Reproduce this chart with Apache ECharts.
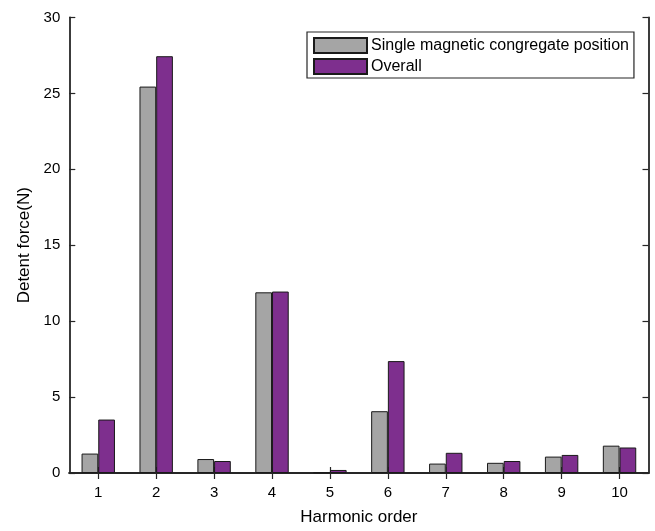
<!DOCTYPE html>
<html>
<head>
<meta charset="utf-8">
<script src="https://cdn.jsdelivr.net/npm/echarts@6/dist/echarts.min.js"></script>
<style>html,body{margin:0;padding:0;background:#fff}#chart{width:655px;height:531px}</style>
</head>
<body>
<div id="chart"></div>
<script>
const categories = ['1','2','3','4','5','6','7','8','9','10'];
const singleValues = [1.28, 25.45, 0.92, 11.9, 0.05, 4.07, 0.62, 0.67, 1.08, 1.8];
const overallValues = [3.52, 27.45, 0.79, 11.95, 0.2, 7.37, 1.33, 0.79, 1.19, 1.68];
const seriesNames = ['Single magnetic congregate position', 'Overall'];
const yTicks = [0, 5, 10, 15, 20, 25, 30];

const FONT = '"Liberation Sans", Arial, Helvetica, sans-serif';
const INK = '#262626';
const chart = echarts.init(document.getElementById('chart'));
const axisLine = {show: true, lineStyle: {color: INK, width: 1.8}};
const tick = {show: true, inside: true, length: 6, lineStyle: {color: INK, width: 1.2}};
chart.setOption({
  animation: false,
  textStyle: {fontFamily: FONT},
  grid: {left: 69.3, right: 6.5, top: 17.5, bottom: 57.5, containLabel: false},
  legend: {
    orient: 'vertical', left: 307, top: 32,
    padding: [5, 5, 3, 6], itemGap: 4, itemWidth: 53, itemHeight: 15,
    borderColor: INK, borderWidth: 1.2, backgroundColor: '#fff',
    icon: 'rect',
    textStyle: {fontSize: 16, color: '#000', fontFamily: FONT, padding: [0, 0, 0, -1]},
    data: seriesNames
  },
  xAxis: [{
    type: 'category', data: categories, position: 'bottom',
    axisLine: axisLine, axisTick: Object.assign({alignWithLabel: true}, tick),
    axisLabel: {fontSize: 15, color: '#000', margin: 12, fontFamily: FONT},
    name: 'Harmonic order', nameLocation: 'middle', nameGap: 36,
    nameTextStyle: {fontSize: 17, color: '#000', fontFamily: FONT}
  }, {
    type: 'category', data: categories, position: 'top',
    axisLine: axisLine, axisTick: Object.assign({alignWithLabel: true}, tick),
    axisLabel: {show: false}
  }],
  yAxis: [{
    type: 'value', min: 0, max: 30, interval: 5, position: 'left',
    axisLine: axisLine, axisTick: tick, splitLine: {show: false},
    axisLabel: {fontSize: 15, color: '#000', margin: 9, fontFamily: FONT,
      formatter: v => yTicks.includes(v) ? String(v) : ''},
    name: 'Detent force(N)', nameLocation: 'middle', nameGap: 36,
    nameTextStyle: {fontSize: 17, color: '#000', fontFamily: FONT}
  }, {
    type: 'value', min: 0, max: 30, interval: 5, position: 'right',
    axisLine: axisLine, axisTick: tick, splitLine: {show: false},
    axisLabel: {show: false}
  }],
  series: [{
    name: seriesNames[0], type: 'bar', data: singleValues,
    barWidth: 16.7, barGap: '0%',
    itemStyle: {color: '#a5a5a5', borderColor: '#1a1a1a', borderWidth: 1}
  }, {
    name: seriesNames[1], type: 'bar', data: overallValues,
    barWidth: 16.7, barGap: '0%',
    itemStyle: {color: '#7e2f8e', borderColor: '#1a1a1a', borderWidth: 1}
  }]
});
</script>
</body>
</html>
